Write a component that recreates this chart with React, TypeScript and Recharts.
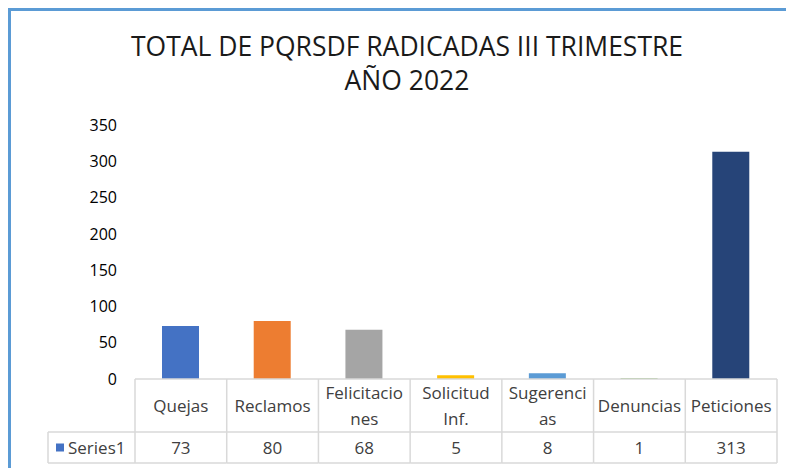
import React from "react";
import { BarChart, Bar, XAxis, YAxis, Cell, Customized } from "recharts";

const categories = ["Quejas", "Reclamos", "Felicitaciones", "Solicitud Inf.", "Sugerencias", "Denuncias", "Peticiones"];
const categoryLines = [["Quejas"], ["Reclamos"], ["Felicitacio", "nes"], ["Solicitud", "Inf."], ["Sugerenci", "as"], ["Denuncias"], ["Peticiones"]];
const series1 = [73, 80, 68, 5, 8, 1, 313];
const barColors = ["#4472C4", "#ED7D31", "#A5A5A5", "#FFC000", "#5B9BD5", "#70AD47", "#264478"];
const yTicks = [0, 50, 100, 150, 200, 250, 300, 350];
const seriesName = "Series1";
const titleLines = ["TOTAL DE PQRSDF RADICADAS III TRIMESTRE", "AÑO 2022"];

const data = categories.map((name, i) => ({ name, value: series1[i] }));

const W = 786;
const H = 468;
const M = { top: 125, right: 9, bottom: 5, left: 0 };
const Y_W = 135;
const X_H = 84;
const HEAD_H = 53;
const LEGEND_W = 87;
const FONT = "'Open Sans', sans-serif";
const TEXT = "#404040";
const GRID = "#D9D9D9";
const CELL_FS = 17;

const bandW = (W - M.left - Y_W - M.right) / categories.length;

function TableTick(props: any) {
  const { x, y, index } = props;
  const lines = categoryLines[index] || [props.payload.value];
  const left = x - bandW / 2;
  const headMid = y + HEAD_H / 2;
  const rowMid = y + HEAD_H + (X_H - HEAD_H) / 2;
  return (
    <g>
      <line x1={left + bandW} y1={y} x2={left + bandW} y2={y + X_H} stroke={GRID} strokeWidth={1.5} />
      {index === 0 && <line x1={left} y1={y} x2={left} y2={y + X_H} stroke={GRID} strokeWidth={1.5} />}
      <line x1={left} y1={y + HEAD_H} x2={left + bandW} y2={y + HEAD_H} stroke={GRID} strokeWidth={1.5} />
      <line x1={left} y1={y + X_H} x2={left + bandW} y2={y + X_H} stroke={GRID} strokeWidth={1.5} />
      {lines.map((t: string, k: number) => (
        <text
          key={k}
          x={x}
          y={headMid + (k - (lines.length - 1) / 2) * 26}
          textAnchor="middle"
          dominantBaseline="central"
          fontSize={CELL_FS}
          fill={TEXT}
          fontFamily={FONT}
        >
          {t}
        </text>
      ))}
      <text x={x} y={rowMid} textAnchor="middle" dominantBaseline="central" fontSize={CELL_FS} fill={TEXT} fontFamily={FONT}>
        {series1[index]}
      </text>
      {index === 0 && (
        <g>
          <line x1={left - LEGEND_W} y1={y + HEAD_H} x2={left} y2={y + HEAD_H} stroke={GRID} strokeWidth={1.5} />
          <line x1={left - LEGEND_W} y1={y + X_H} x2={left} y2={y + X_H} stroke={GRID} strokeWidth={1.5} />
          <line x1={left - LEGEND_W} y1={y + HEAD_H} x2={left - LEGEND_W} y2={y + X_H} stroke={GRID} strokeWidth={1.5} />
          <rect x={left - LEGEND_W + 8} y={rowMid - 4} width={8} height={8} fill={barColors[0]} />
          <text x={left - LEGEND_W + 20} y={rowMid} dominantBaseline="central" fontSize={CELL_FS} fill={TEXT} fontFamily={FONT}>
            {seriesName}
          </text>
        </g>
      )}
    </g>
  );
}

export default function App() {
  return (
    <div style={{ position: "absolute", left: 0, top: 0, width: W, height: H, background: "#fff", overflow: "hidden" }}>
      <div
        style={{
          position: "absolute",
          left: 8,
          top: 8,
          width: W,
          height: H,
          borderLeft: "3px solid #5B9BD5",
          borderTop: "3px solid #5B9BD5",
        }}
      />
      <div style={{ position: "absolute", left: 0, top: 0 }}>
        <BarChart width={W} height={H} data={data} margin={M}>
          <Customized
            component={() => (
              <g>
                {titleLines.map((t, i) => (
                  <text
                    key={i}
                    x={407}
                    y={46 + i * 34}
                    textAnchor="middle"
                    dominantBaseline="central"
                    fontSize={26.5}
                    fill="#1a1a1a"
                    fontFamily={FONT}
                  >
                    {t}
                  </text>
                ))}
              </g>
            )}
          />
          <XAxis
            dataKey="name"
            height={X_H}
            axisLine={{ stroke: GRID, strokeWidth: 1.5 }}
            tickLine={false}
            tickSize={0}
            tickMargin={0}
            interval={0}
            tick={<TableTick />}
          />
          <YAxis
            width={Y_W}
            domain={[0, 350]}
            ticks={yTicks}
            axisLine={false}
            tickLine={false}
            tickSize={0}
            tickMargin={18}
            tick={{ fontSize: 16, fill: "#000", fontFamily: FONT }}
          />
          <Bar dataKey="value" barSize={37} isAnimationActive={false}>
            {data.map((d, i) => (
              <Cell key={d.name} fill={barColors[i]} />
            ))}
          </Bar>
        </BarChart>
      </div>
    </div>
  );
}
